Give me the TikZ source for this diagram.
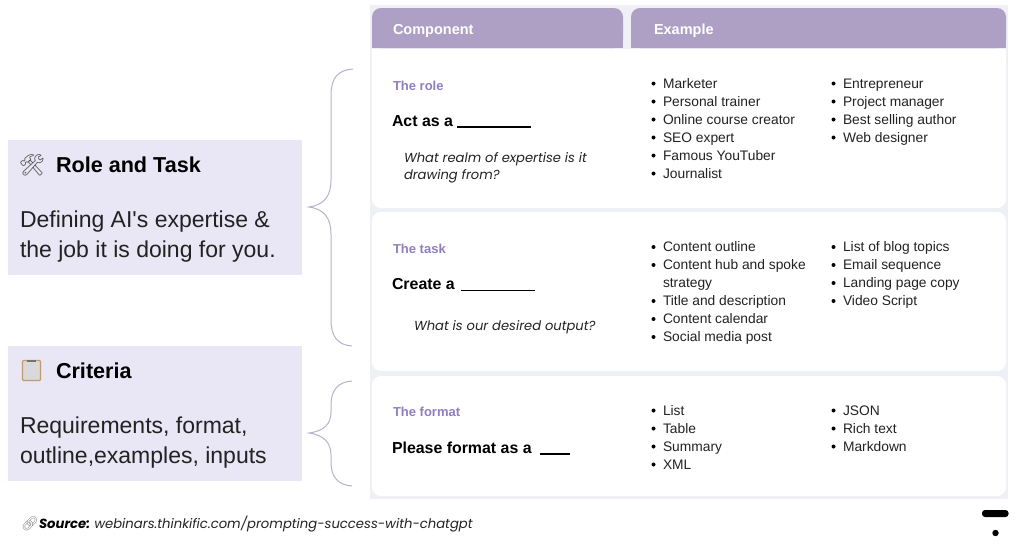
\documentclass[tikz,border=0pt]{standalone}
\usepackage{fontspec}
\setmainfont{Liberation Sans}
\newfontfamily\plainfont{Liberation Sans}
\newfontfamily\popfont{Poppins}
\newfontfamily\emojifont{Noto Emoji}
\usetikzlibrary{backgrounds}
\definecolor{headlilac}{HTML}{AE9FC4}
\definecolor{boxlilac}{HTML}{E9E6F5}
\definecolor{panelbg}{HTML}{EEF0F6}
\definecolor{rowlabel}{HTML}{8F7FBE}
\definecolor{bracelilac}{HTML}{B4B2CC}
\definecolor{inkgrey}{HTML}{222222}
\definecolor{clipbrown}{HTML}{C49A6C}
\definecolor{clippage}{HTML}{D9D9D9}
\begin{document}
\begin{tikzpicture}[x=1pt,y=1pt]
\tikzstyle{every node}=[inner sep=0pt,outer sep=0pt]
\tikzstyle{leftbox}=[fill=boxlilac,minimum width=294pt,anchor=north west]
\tikzstyle{boxtitle}=[anchor=base west,font=\fontsize{21.6}{25}\selectfont\bfseries,text=black]
\tikzstyle{boxtext}=[anchor=west,align=left,font=\fontsize{23}{30}\plainfont,text=inkgrey]
\tikzstyle{emoji}=[anchor=center,font=\fontsize{21}{25}\emojifont,text=black!65]
\tikzstyle{rowpanel}=[fill=white,rounded corners=9pt,anchor=north west,minimum width=634pt]
\tikzstyle{headcell}=[anchor=base west,font=\fontsize{14.5}{17}\selectfont\bfseries,text=white]
\tikzstyle{rowname}=[anchor=base west,font=\fontsize{13}{15}\selectfont\bfseries,text=rowlabel]
\tikzstyle{prompt}=[anchor=base west,font=\fontsize{15.9}{17}\selectfont\bfseries,text=black]
\tikzstyle{question}=[anchor=west,align=left,font=\fontsize{13.1}{16.5}\popfont\itshape,text=inkgrey]
\tikzstyle{item}=[anchor=base west,font=\fontsize{13.8}{16}\selectfont,text=inkgrey]
\tikzstyle{dotted item}=[item]
\tikzstyle{blank}=[line width=1.5pt,black]
\tikzstyle{bracket}=[bracelilac,line width=1pt]
\useasboundingbox (0,0) rectangle (1024,-547);
% table
\fill [panelbg] (370,-5) rectangle (1008,-499);
\node (hc) [fill=headlilac,anchor=north west,minimum width=251pt,minimum height=40pt,rounded corners=9pt] at (372,-8) {};
\fill [headlilac] (372,-30) rectangle (623,-48);
\node (he) [fill=headlilac,anchor=north west,minimum width=375pt,minimum height=40pt,rounded corners=9pt] at (631,-8) {};
\fill [headlilac] (631,-30) rectangle (1006,-48);
\node (hct) [headcell] at (393,-34) {Component};
\node (het) [headcell] at (654,-34) {Example};
\node (rowa) [rowpanel,minimum height=159pt] at (372,-49) {};
\fill [white] (372,-49) rectangle (1006,-65);
\node (rowb) [rowpanel,minimum height=159pt] at (372,-212) {};
\node (rowc) [rowpanel,minimum height=120pt] at (372,-376) {};
% left column of the rows
\node (na) [rowname] at (393,-90) {The role};
\node (pa) [prompt] at (392,-126) {Act as a};
\draw [blank] (457,-127) -- (531,-127);
\node (qa) [question] at (404,-168) {What realm of expertise is it\\drawing from?};
\node (nb) [rowname] at (393,-253.5) {The task};
\node (pb) [prompt] at (392,-289.5) {Create a};
\draw [blank] (461,-290.5) -- (535,-290.5);
\node (qb) [question] at (414,-327) {What is our desired output?};
\node (nc) [rowname] at (393,-416.5) {The format};
\node (pc) [prompt] at (392,-453) {Please format as a};
\draw [blank] (540,-454) -- (570,-454);
% example lists
\foreach \txt [count=\i] in {Marketer,Personal trainer,Online course creator,SEO expert,Famous YouTuber,Journalist} {
  \node (ea\i) [dotted item] at (663,{-88-18*(\i-1)}) {\txt};
  \fill (653.5,{-83.5-18*(\i-1)}) circle (2);
}
\foreach \txt [count=\i] in {Entrepreneur,Project manager,Best selling author,Web designer} {
  \node (fa\i) [dotted item] at (843,{-88-18*(\i-1)}) {\txt};
  \fill (833.5,{-83.5-18*(\i-1)}) circle (2);
}
\foreach \txt [count=\i] in {Content outline,Content hub and spoke} {
  \node (eb\i) [dotted item] at (663,{-251.5-18*(\i-1)}) {\txt};
  \fill (653.5,{-247-18*(\i-1)}) circle (2);
}
\node (ebx) [item] at (663,-287.5) {strategy};
\foreach \txt [count=\i] in {Title and description,Content calendar,Social media post} {
  \node (ec\i) [dotted item] at (663,{-305.5-18*(\i-1)}) {\txt};
  \fill (653.5,{-301-18*(\i-1)}) circle (2);
}
\foreach \txt [count=\i] in {List of blog topics,Email sequence,Landing page copy,Video Script} {
  \node (fb\i) [dotted item] at (843,{-251.5-18*(\i-1)}) {\txt};
  \fill (833.5,{-247-18*(\i-1)}) circle (2);
}
\foreach \txt [count=\i] in {List,Table,Summary,XML} {
  \node (ed\i) [dotted item] at (663,{-415-18*(\i-1)}) {\txt};
  \fill (653.5,{-410.5-18*(\i-1)}) circle (2);
}
\foreach \txt [count=\i] in {JSON,Rich text,Markdown} {
  \node (fc\i) [dotted item] at (843,{-415-18*(\i-1)}) {\txt};
  \fill (833.5,{-410.5-18*(\i-1)}) circle (2);
}
% left boxes
\node (boxa) [leftbox,minimum height=135pt] at (8,-139.5) {};
\node (ica) [emoji] at (32,-165) {🛠};
\node (ta) [boxtitle] at (56,-172.5) {Role and Task};
\node (da) [boxtext] at (20,-236.5) {Defining AI's expertise \&\\the job it is doing for you.};
\node (boxb) [leftbox,minimum height=135pt] at (8,-345.5) {};
\draw [clipbrown,fill=clippage,line width=1.2pt,rounded corners=1pt] (22.5,-360.5) rectangle (40.5,-380.5);
\fill [black!55] (27,-359.5) rectangle (36,-362);
\node (tb) [boxtitle] at (56,-378.5) {Criteria};
\node (db) [boxtext] at (20,-442.5) {Requirements, format,\\outline,examples, inputs};
% braces
\draw [bracket] (353,-69) .. controls (338,-70) and (331,-78) .. (331,-95) -- (331,-180)
  .. controls (331,-196) and (324,-205) .. (309,-207)
  .. controls (324,-209) and (331,-218) .. (331,-234) -- (331,-320)
  .. controls (331,-337) and (338,-345) .. (352,-346);
\draw [bracket] (352,-381) .. controls (338,-382) and (331,-390) .. (331,-405) -- (331,-412)
  .. controls (331,-424) and (324,-431) .. (309,-433)
  .. controls (324,-435) and (331,-443) .. (331,-455) -- (331,-462)
  .. controls (331,-477) and (338,-485) .. (352,-486);
% source line
\node (lnk) [anchor=center,font=\fontsize{14}{16}\emojifont,text=black!45] at (30,-524) {🔗};
\node (src) [anchor=west,font=\fontsize{13.2}{16}\popfont\itshape,text=inkgrey] at (39,-524) {{\bfseries\color{black}Source:}\hspace{-1pt} webinars.thinkific.com/prompting-success-with-chatgpt};
% mark in the corner
\fill [black,rounded corners=3pt] (982,-510) rectangle (1008.5,-517);
\fill [black] (995.5,-533) circle (3.2);
\end{tikzpicture}
\end{document}
